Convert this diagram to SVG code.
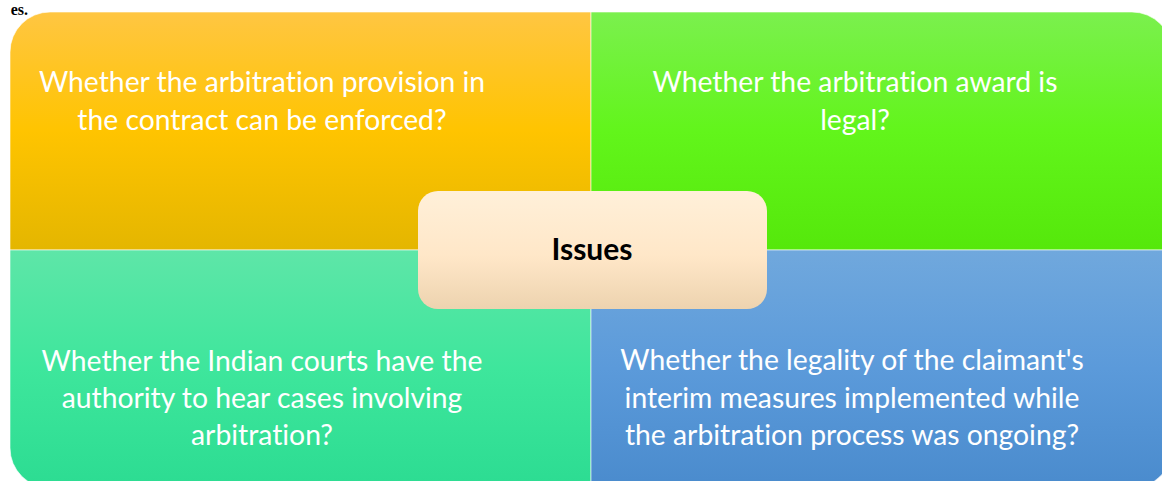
<svg xmlns="http://www.w3.org/2000/svg" width="1162" height="481" viewBox="0 0 1162 481">
<defs>
<linearGradient id="gTL" x1="0" y1="0" x2="0" y2="1"><stop offset="0" stop-color="#FFC642"/><stop offset="0.5" stop-color="#FFC400"/><stop offset="1" stop-color="#E4B600"/></linearGradient>
<linearGradient id="gTR" x1="0" y1="0" x2="0" y2="1"><stop offset="0" stop-color="#7BF04E"/><stop offset="0.5" stop-color="#62F51B"/><stop offset="1" stop-color="#55E80B"/></linearGradient>
<linearGradient id="gBL" x1="0" y1="0" x2="0" y2="1"><stop offset="0" stop-color="#5EE6A8"/><stop offset="0.5" stop-color="#3EE69C"/><stop offset="1" stop-color="#2CDC92"/></linearGradient>
<linearGradient id="gBR" x1="0" y1="0" x2="0" y2="1"><stop offset="0" stop-color="#70A8DD"/><stop offset="0.5" stop-color="#5B9ADA"/><stop offset="1" stop-color="#4A8BCD"/></linearGradient>
<linearGradient id="gC" x1="0" y1="0" x2="0" y2="1"><stop offset="0" stop-color="#FFF0D9"/><stop offset="0.55" stop-color="#FFE7C8"/><stop offset="1" stop-color="#EDD3AF"/></linearGradient>
</defs>
<style>
.q{stroke:#ffffff;stroke-opacity:0.6;stroke-width:1}
.t{font-family:Lato,"Open Sans",sans-serif;font-size:28.3px;fill:#ffffff;text-anchor:middle;font-variant-ligatures:none}
.c{font-family:Lato,"Open Sans",sans-serif;font-size:30px;font-weight:bold;fill:#000000;text-anchor:middle}
</style>
<text x="28" y="14.5" font-family="Liberation Serif,serif" font-weight="bold" font-size="16" text-anchor="end" fill="#000">es.</text>
<g id="q-top-left">
<path class="q" fill="url(#gTL)" d="M10,250 V52 A40,40 0 0 1 50,12 H591 V250 Z"/>
<text class="t"><tspan x="262" y="92">Whether the arbitration provision in</tspan><tspan x="262" y="130">the contract can be enforced?</tspan></text>
</g>
<g id="q-top-right">
<path class="q" fill="url(#gTR)" d="M591,12 H1132 A40,40 0 0 1 1172,52 V250 H591 Z"/>
<text class="t"><tspan x="855" y="92">Whether the arbitration award is</tspan><tspan x="855" y="130">legal?</tspan></text>
</g>
<g id="q-bottom-left">
<path class="q" fill="url(#gBL)" d="M10,250 H591 V488 H50 A40,40 0 0 1 10,448 Z"/>
<text class="t"><tspan x="262" y="371">Whether the Indian courts have the</tspan><tspan x="262" y="408">authority to hear cases involving</tspan><tspan x="262" y="445">arbitration?</tspan></text>
</g>
<g id="q-bottom-right">
<path class="q" fill="url(#gBR)" d="M591,250 H1172 V448 A40,40 0 0 1 1132,488 H591 Z"/>
<text class="t"><tspan x="852" y="370">Whether the legality of the claimant's</tspan><tspan x="852" y="408">interim measures implemented while</tspan><tspan x="852" y="445">the arbitration process was ongoing?</tspan></text>
</g>
<g id="center-issues">
<rect x="418" y="191" width="349" height="118" rx="20" ry="20" fill="url(#gC)"/>
<text class="c" x="592" y="260">Issues</text>
</g>
<g id="connectors"></g>
</svg>
